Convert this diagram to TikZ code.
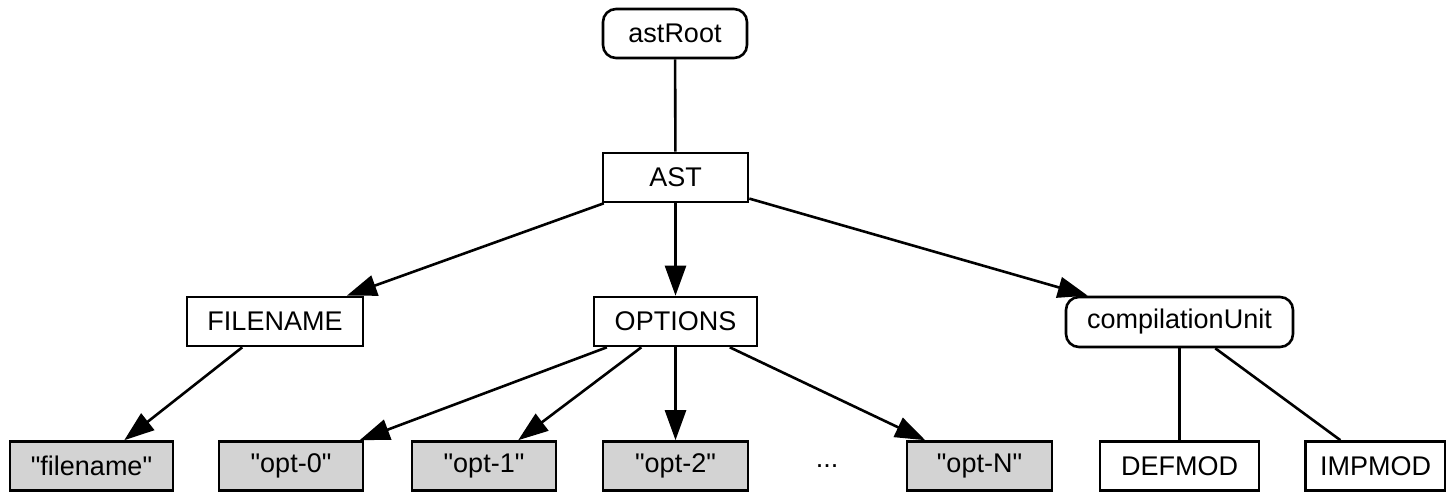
\documentclass[tikz,border=0pt]{standalone}
\usepackage{fontspec}
\newfontfamily\lib{Liberation Sans}
\usetikzlibrary{arrows.meta}
\definecolor{lgray}{RGB}{211,211,211}
\begin{document}
\begin{tikzpicture}[x=0.5pt,y=-0.5pt,
  base/.style={draw=black,line width=1.3pt,inner sep=0pt,minimum height=24.5pt,
    font=\lib\fontsize{13.5}{15}\selectfont},
  boxn/.style={base,rectangle},
  roundn/.style={base,rectangle,rounded corners=6.5pt},
  leaf/.style={base,rectangle,fill=lgray},
  link/.style={line width=1.3pt},
  arr/.style={line width=1.3pt,-{Triangle[length=15pt,width=10.5pt]}}]
\useasboundingbox (0,0) rectangle (1446,492);
\node[roundn,minimum width=72pt] (root) at (675,33.5) {astRoot};
\node[boxn,minimum width=72.5pt] (ast) at (675.5,177.5) {AST};
\node[boxn,minimum width=88pt] (fn) at (275,321.5) {FILENAME};
\node[boxn,minimum width=81.5pt] (opt) at (675.5,321.5) {OPTIONS};
\node[roundn,minimum width=113.5pt,minimum height=25pt] (cu) at (1179.5,322) {compilationUnit};
\node[leaf,minimum width=81.5pt] (fname) at (91.5,466) {"filename"};
\node[leaf,minimum width=72pt] (o0) at (291,466) {"opt-0"};
\node[leaf,minimum width=72pt] (o1) at (484,466) {"opt-1"};
\node[leaf,minimum width=72.5pt] (o2) at (675.5,466) {"opt-2"};
\node[font=\lib\fontsize{13.5}{15}\selectfont,inner sep=0pt] (dots) at (827,466) {...};
\node[leaf,minimum width=72.5pt] (oN) at (979.5,466) {"opt-N"};
\node[boxn,minimum width=79.5pt] (def) at (1179.5,466) {DEFMOD};
\node[boxn,minimum width=70pt] (imp) at (1375.5,466) {IMPMOD};
\draw[link] (root) -- (ast);
\draw[arr] (ast) -- (fn);
\draw[arr] (ast) -- (opt);
\draw[arr] (ast) -- (cu);
\draw[arr] (fn) -- (fname);
\draw[arr] (opt) -- (o0);
\draw[arr] (opt) -- (o1);
\draw[arr] (opt) -- (o2);
\draw[arr] (opt) -- (oN);
\draw[link] (cu) -- (def);
\draw[link] (cu) -- (imp);
\end{tikzpicture}
\end{document}
